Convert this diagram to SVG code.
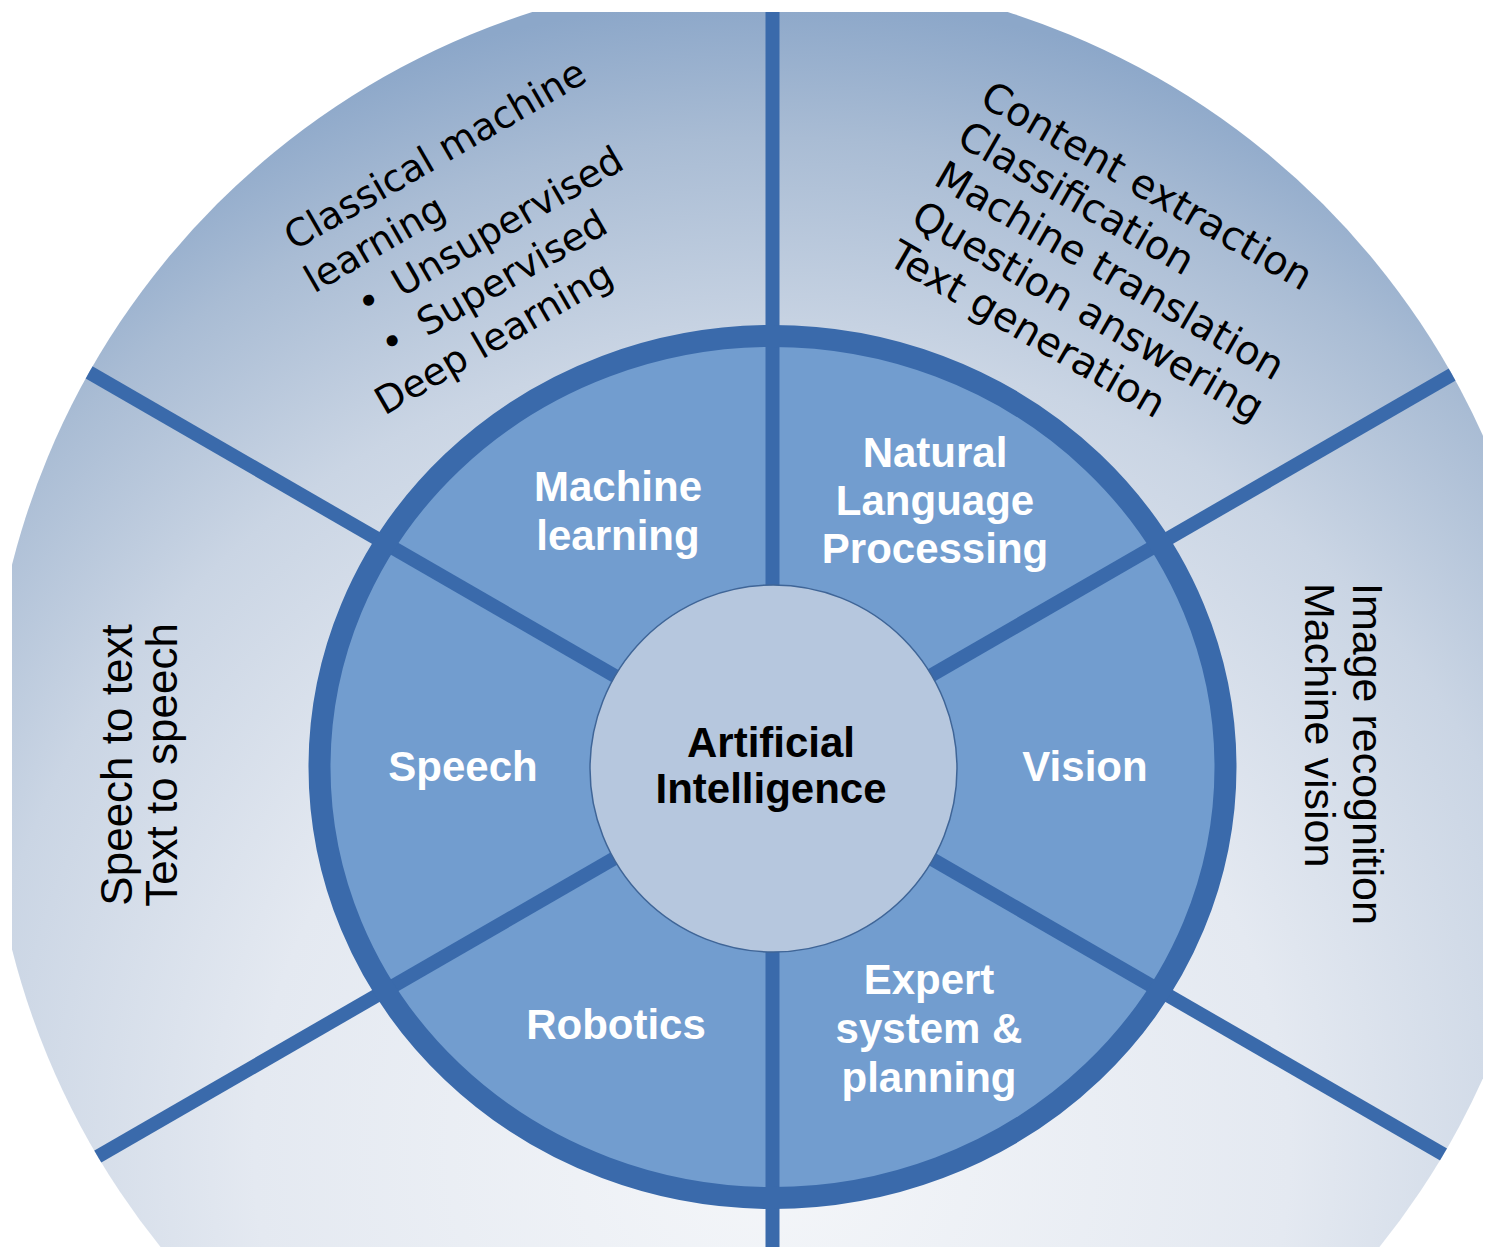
<svg xmlns="http://www.w3.org/2000/svg" width="1489" height="1247" viewBox="0 0 1489 1247">
<defs>
<radialGradient id="bg" gradientUnits="userSpaceOnUse" cx="772" cy="1150" r="1150">
<stop offset="0" stop-color="#f4f6f9"/>
<stop offset="0.45" stop-color="#e4e9f1"/>
<stop offset="0.7" stop-color="#cad5e4"/>
<stop offset="0.88" stop-color="#a9bcd4"/>
<stop offset="1" stop-color="#8ca7c9"/>
</radialGradient>
<clipPath id="frame"><rect x="12" y="12" width="1471" height="1235"/></clipPath>
<clipPath id="disc"><circle cx="770" cy="757" r="782"/></clipPath>
</defs>
<style>
.spoke{stroke:#3a6aab;stroke-width:14;fill:none}
.lbl{font-family:"Liberation Sans",Arial,sans-serif;font-weight:bold;font-size:42px;fill:#ffffff;text-anchor:middle}
.ctr{font-family:"Liberation Sans",Arial,sans-serif;font-weight:bold;font-size:42px;fill:#000000;text-anchor:middle}
.side{font-family:"Liberation Sans",Arial,sans-serif;font-size:43px;fill:#000000}
.hand{font-family:"DejaVu Sans",sans-serif;font-size:38px;fill:#000000}
.hand2{font-family:"DejaVu Sans",sans-serif;font-size:40px;fill:#000000}
</style>
<rect x="0" y="0" width="1489" height="1247" fill="#ffffff"/>
<g clip-path="url(#frame)">
<circle id="outer-disc" cx="770" cy="757" r="782" fill="url(#bg)"/>
<ellipse id="ring-fill" cx="772.5" cy="767" rx="453" ry="431" fill="#729dcf"/>
<g id="connectors" clip-path="url(#disc)">
<line class="spoke" x1="772.5" y1="0" x2="772.5" y2="1247"/>
<line class="spoke" x1="-93.5" y1="267" x2="1638.5" y2="1267"/>
<line class="spoke" x1="-93.5" y1="1267" x2="1638.5" y2="267"/>
</g>
</g>
<ellipse id="ring-border" cx="772.5" cy="767" rx="453" ry="431" fill="none" stroke="#3a6aab" stroke-width="22"/>
<g id="node-ai">
<circle cx="773.5" cy="768.5" r="183.5" fill="#b6c7de" stroke="#3f6597" stroke-width="1.5"/>
<text class="ctr" x="771" y="757">Artificial</text>
<text class="ctr" x="771" y="803">Intelligence</text>
</g>
<g id="node-ml">
<text class="lbl" x="618" y="501">Machine</text>
<text class="lbl" x="618" y="550">learning</text>
</g>
<g id="node-nlp">
<text class="lbl" x="935" y="467">Natural</text>
<text class="lbl" x="935" y="515">Language</text>
<text class="lbl" x="935" y="563">Processing</text>
</g>
<g id="node-speech">
<text class="lbl" x="463" y="781">Speech</text>
</g>
<g id="node-vision">
<text class="lbl" x="1085" y="781">Vision</text>
</g>
<g id="node-robotics">
<text class="lbl" x="616" y="1039">Robotics</text>
</g>
<g id="node-expert">
<text class="lbl" x="929" y="994">Expert</text>
<text class="lbl" x="929" y="1043">system &amp;</text>
<text class="lbl" x="929" y="1092">planning</text>
</g>
<g id="outer-ml" transform="translate(294,251) rotate(-30)">
<text class="hand" x="0" y="0">Classical machine</text>
<text class="hand" x="-4" y="47">learning</text>
<text class="hand" x="29" y="94">•</text>
<text class="hand" x="70" y="94">Unsupervised</text>
<text class="hand" x="29" y="141">•</text>
<text class="hand" x="72" y="141">Supervised</text>
<text class="hand" x="-4" y="188">Deep learning</text>
</g>
<g id="outer-nlp" transform="translate(978,104) rotate(30)">
<text class="hand2" x="0" y="0">Content extraction</text>
<text class="hand2" x="0" y="46">Classification</text>
<text class="hand2" x="0" y="92">Machine translation</text>
<text class="hand2" x="0" y="138">Question answering</text>
<text class="hand2" x="0" y="184">Text generation</text>
</g>
<g id="outer-speech">
<text class="side" style="font-size:44px" text-anchor="middle" transform="translate(132,765) rotate(-90)">Speech to text</text>
<text class="side" style="font-size:44px" text-anchor="middle" transform="translate(177,765) rotate(-90)">Text to speech</text>
</g>
<g id="outer-vision">
<text class="side" transform="translate(1353,583) rotate(90)">Image recognition</text>
<text class="side" transform="translate(1305,583) rotate(90)">Machine vision</text>
</g>
</svg>
